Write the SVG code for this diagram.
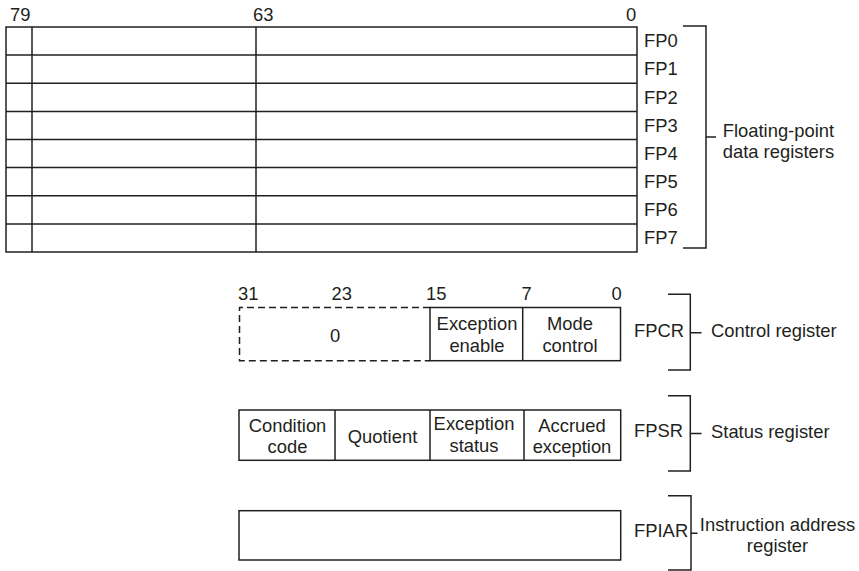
<svg xmlns="http://www.w3.org/2000/svg" width="859" height="571" viewBox="0 0 859 571">
<style>
.ln{stroke:#231f20;stroke-width:1.5;fill:none}
.dash{stroke:#231f20;stroke-width:1.5;fill:none;stroke-dasharray:7 4}
text{font-family:"Liberation Sans",Arial,sans-serif;font-size:18.4px;fill:#231f20}
.m{text-anchor:middle}
</style>
<rect width="859" height="571" fill="#fff"/>
<g id="fp-registers">
<rect class="ln" x="6" y="27" width="631" height="225"/>
<line class="ln" x1="32" y1="27" x2="32" y2="252"/>
<line class="ln" x1="256" y1="27" x2="256" y2="252"/>
<line class="ln" x1="6" y1="55.1" x2="637" y2="55.1"/>
<line class="ln" x1="6" y1="83.3" x2="637" y2="83.3"/>
<line class="ln" x1="6" y1="111.4" x2="637" y2="111.4"/>
<line class="ln" x1="6" y1="139.5" x2="637" y2="139.5"/>
<line class="ln" x1="6" y1="167.6" x2="637" y2="167.6"/>
<line class="ln" x1="6" y1="195.8" x2="637" y2="195.8"/>
<line class="ln" x1="6" y1="223.9" x2="637" y2="223.9"/>
<text x="10" y="20.5">79</text>
<text x="253" y="20.5">63</text>
<text x="626" y="20.5">0</text>
<text x="644" y="47.3">FP0</text>
<text x="644" y="75.4">FP1</text>
<text x="644" y="103.5">FP2</text>
<text x="644" y="131.7">FP3</text>
<text x="644" y="159.8">FP4</text>
<text x="644" y="187.9">FP5</text>
<text x="644" y="216">FP6</text>
<text x="644" y="244.2">FP7</text>
</g>
<g id="fpcr">
<path class="dash" d="M430 307.5 H239.5 V360.7 H430"/>
<rect class="ln" x="430" y="307.5" width="190.5" height="53.2"/>
<line class="ln" x1="522.7" y1="307.5" x2="522.7" y2="360.7"/>
<text x="238" y="299.5">31</text>
<text x="331.5" y="299.5">23</text>
<text x="426" y="299.5">15</text>
<text x="521.5" y="299.5">7</text>
<text x="611.5" y="299.5">0</text>
<text class="m" x="335" y="341.5">0</text>
<text class="m" x="477" y="330">Exception</text>
<text class="m" x="477" y="351.7">enable</text>
<text class="m" x="570" y="329.5">Mode</text>
<text class="m" x="570" y="351.5">control</text>
<text x="634" y="336.7">FPCR</text>
</g>
<g id="fpsr">
<rect class="ln" x="239" y="410" width="381.7" height="50.3"/>
<line class="ln" x1="335" y1="410" x2="335" y2="460.3"/>
<line class="ln" x1="430" y1="410" x2="430" y2="460.3"/>
<line class="ln" x1="524" y1="410" x2="524" y2="460.3"/>
<text class="m" x="287.5" y="431.7">Condition</text>
<text class="m" x="287.5" y="453.3">code</text>
<text class="m" x="382.5" y="443">Quotient</text>
<text class="m" x="474" y="430">Exception</text>
<text class="m" x="474" y="452.3">status</text>
<text class="m" x="572" y="432.3">Accrued</text>
<text class="m" x="572" y="453.3">exception</text>
<text x="634" y="437">FPSR</text>
</g>
<g id="fpiar">
<rect class="ln" x="239" y="510.7" width="381.7" height="49.3"/>
<text x="634" y="537">FPIAR</text>
</g>
<g id="connectors">
<path class="ln" d="M683 26 H706 V248 H683 M706 137 H716"/>
<path class="ln" d="M668 294.3 H690.3 V370 H668 M690.3 332.7 H701.5"/>
<path class="ln" d="M668 395.7 H690.3 V471 H668 M690.3 433.5 H701.5"/>
<path class="ln" d="M668 495.7 H691 V570 H668 M691 533.3 H697.5"/>
</g>
<g id="bracket-labels">
<text x="722.7" y="136.7">Floating-point</text>
<text x="722.7" y="157.5">data registers</text>
<text x="711" y="337">Control register</text>
<text x="711" y="437.5">Status register</text>
<text class="m" x="777.5" y="530.5">Instruction address</text>
<text class="m" x="777.5" y="552">register</text>
</g>
</svg>
